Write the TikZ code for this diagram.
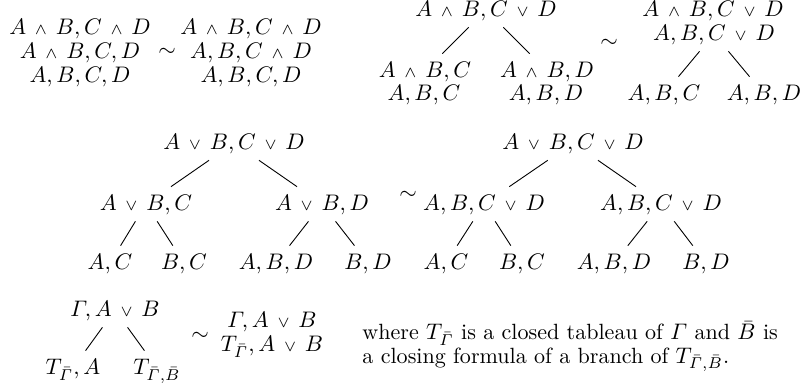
\documentclass[tikz,border=0pt]{standalone}
\usepackage{amsmath}
\newcommand{\landsm}{\mathbin{\mkern3mu{\scriptstyle\wedge}\mkern3mu}}
\newcommand{\lorsm}{\mathbin{\mkern3mu{\scriptstyle\vee}\mkern3mu}}
\newcommand{\Gb}{\bar{\varGamma}}
\newcommand{\Bb}{\bar{B}}

\begin{document}
\begin{tikzpicture}[
    x=0.4444pt, y=-0.4444pt,
    fml/.style={inner sep=1.5pt, text height=9pt, text depth=3pt},
    equiv/.style={inner sep=1.5pt},
    link/.style={thin}
]
\useasboundingbox (0,0) rectangle (805,389);

% ---- conjunctions, one branch ----
\node[fml] (ca1) at (80,28) {$A\landsm B, C\landsm D$};
\node[fml] (ca2) at (80,52) {$A\landsm B, C, D$};
\node[fml] (ca3) at (80,76) {$A, B, C, D$};
\node[equiv] (sa) at (167,52) {$\sim$};
\node[fml] (cb1) at (251,28) {$A\landsm B, C\landsm D$};
\node[fml] (cb2) at (251,52) {$A, B, C\landsm D$};
\node[fml] (cb3) at (251,76) {$A, B, C, D$};

% ---- conjunction and disjunction ----
\node[fml] (da0) at (486,10) {$A\landsm B, C\lorsm D$};
\node[fml] (da1) at (425,71) {$A\landsm B, C$};
\node[fml] (da1b) at (424,94) {$A, B, C$};
\node[fml] (da2) at (547,71) {$A\landsm B, D$};
\node[fml] (da2b) at (546,94) {$A, B, D$};
\draw[link] (da0) -- (da1);
\draw[link] (da0) -- (da2);

\node[equiv] (sb) at (609,43) {$\sim$};

\node[fml] (db0) at (713,10) {$A\landsm B, C\lorsm D$};
\node[fml] (db0b) at (714,34) {$A, B, C\lorsm D$};
\node[fml] (db1) at (664,94) {$A, B, C$};
\node[fml] (db2) at (764,94) {$A, B, D$};
\draw[link] (db0b) -- (db1);
\draw[link] (db0b) -- (db2);

% ---- two disjunctions ----
\node[fml] (ea0) at (234,143) {$A\lorsm B, C\lorsm D$};
\node[fml] (ea1) at (146,204) {$A\lorsm B, C$};
\node[fml] (ea2) at (322,204) {$A\lorsm B, D$};
\node[fml] (ea11) at (110,263) {$A, C$};
\node[fml] (ea12) at (184,263) {$B, C$};
\node[fml] (ea21) at (276,263) {$A, B, D$};
\node[fml] (ea22) at (368,263) {$B, D$};
\draw[link] (ea0) -- (ea1);
\draw[link] (ea0) -- (ea2);
\draw[link] (ea1) -- (ea11);
\draw[link] (ea1) -- (ea12);
\draw[link] (ea2) -- (ea21);
\draw[link] (ea2) -- (ea22);

\node[equiv] (sc) at (408,195) {$\sim$};

\node[fml] (eb0) at (573,143) {$A\lorsm B, C\lorsm D$};
\node[fml] (eb1) at (484,204) {$A, B, C\lorsm D$};
\node[fml] (eb2) at (661,204) {$A, B, C\lorsm D$};
\node[fml] (eb11) at (446,263) {$A, C$};
\node[fml] (eb12) at (522,263) {$B, C$};
\node[fml] (eb21) at (614,263) {$A, B, D$};
\node[fml] (eb22) at (706,263) {$B, D$};
\draw[link] (eb0) -- (eb1);
\draw[link] (eb0) -- (eb2);
\draw[link] (eb1) -- (eb11);
\draw[link] (eb1) -- (eb12);
\draw[link] (eb2) -- (eb21);
\draw[link] (eb2) -- (eb22);

% ---- closed tableau ----
\node[fml] (ga0) at (115,310) {$\varGamma, A\lorsm B$};
\node[fml] (ga1) at (73,368) {$T_{\Gb}, A$};
\node[fml] (ga2) at (157,368) {$T_{\Gb,\Bb}$};
\draw[link] (ga0) -- (ga1);
\draw[link] (ga0) -- (ga2);

\node[equiv] (sd) at (200,336) {$\sim$};

\node[fml] (gb1) at (272,321) {$\varGamma, A\lorsm B$};
\node[fml] (gb2) at (272,345) {$T_{\Gb}, A\lorsm B$};

\node[anchor=north west, inner sep=0pt, align=left,
      font=\fontsize{9.8}{10.5}\selectfont] (note) at (362,321)
  {where $T_{\Gb}$ is a closed tableau of $\varGamma$ and $\Bb$ is\\
   a closing formula of a branch of $T_{\Gb,\Bb}$.};
\end{tikzpicture}
\end{document}
